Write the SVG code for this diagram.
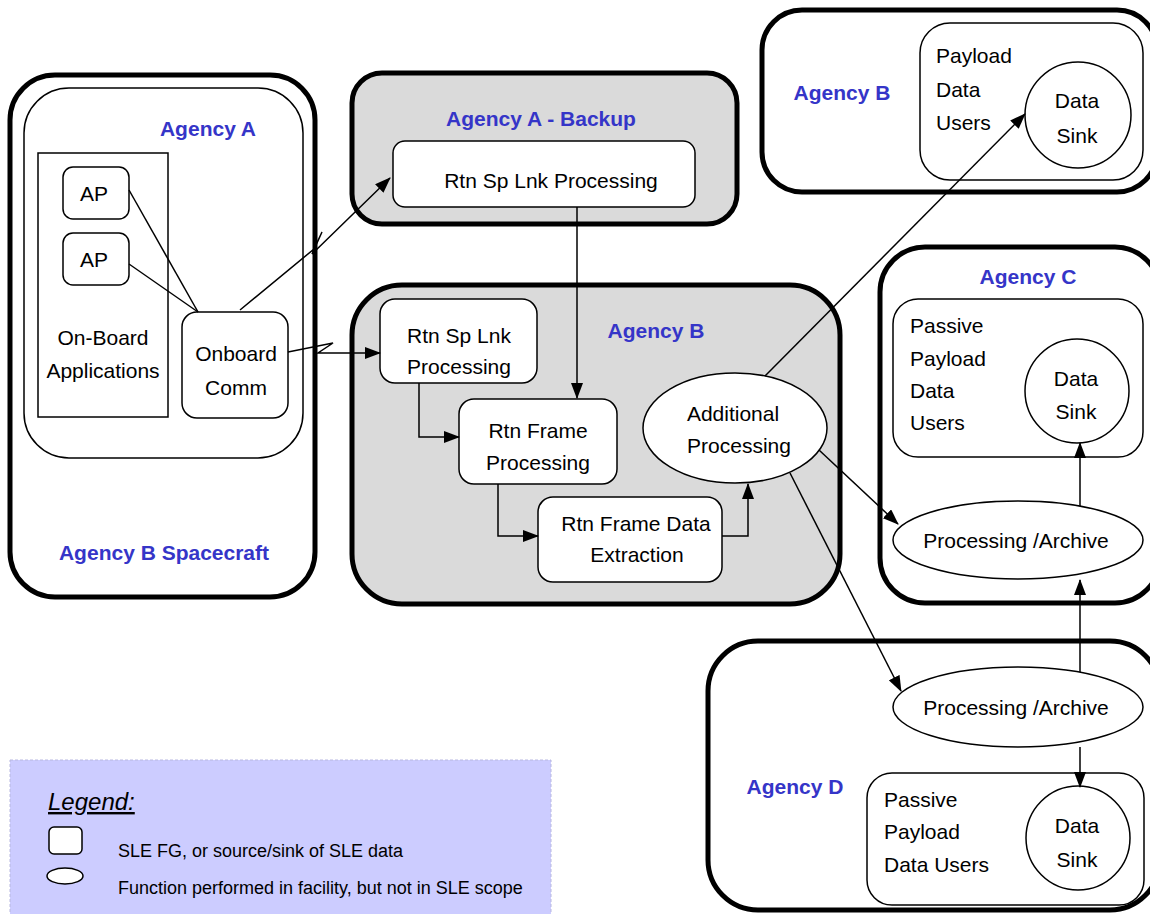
<svg xmlns="http://www.w3.org/2000/svg" width="1150" height="914" viewBox="0 0 1150 914">
<defs>
<marker id="arr" markerWidth="16" markerHeight="12" refX="15" refY="6" orient="auto" markerUnits="userSpaceOnUse" viewBox="0 0 16 12">
<path d="M0,0 L16,6 L0,12 z" fill="#000"/>
</marker>
<style>
.big{fill:#fff;stroke:#000;stroke-width:5}
.grey{fill:#dadada;stroke:#000;stroke-width:5}
.box{fill:#fff;stroke:#000;stroke-width:1.5}
.t{font-family:"Liberation Sans",Arial,sans-serif;font-size:21px;fill:#000}
.c{text-anchor:middle}
.ag{font-family:"Liberation Sans",Arial,sans-serif;font-size:21px;font-weight:bold;fill:#3535c8;text-anchor:middle}
.lg{font-family:"Liberation Sans",Arial,sans-serif;font-size:18px;fill:#000}
.ln{fill:none;stroke:#000;stroke-width:1.5}
</style>
</defs>
<rect width="1150" height="914" fill="#fff"/>

<g id="spacecraft">
<rect class="big" x="10" y="75" width="305" height="522" rx="45"/>
<text class="ag" x="164" y="560">Agency B Spacecraft</text>
</g>
<g id="agencyA">
<rect class="box" x="24" y="88" width="279" height="370" rx="45"/>
<text class="ag" x="208" y="136">Agency A</text>
</g>
<g id="onboardApps">
<rect class="box" x="38" y="153" width="130" height="264"/>
<text class="t c" x="103" y="345">On-Board</text>
<text class="t c" x="103" y="378">Applications</text>
</g>
<g id="ap1">
<rect class="box" x="63" y="167" width="66" height="52" rx="10"/>
<text class="t c" x="94" y="201">AP</text>
</g>
<g id="ap2">
<rect class="box" x="63" y="233" width="66" height="52" rx="10"/>
<text class="t c" x="94" y="267">AP</text>
</g>
<g id="onboardComm">
<rect class="box" x="182" y="312" width="106" height="106" rx="15"/>
<text class="t c" x="236" y="361">Onboard</text>
<text class="t c" x="236" y="395">Comm</text>
</g>

<g id="agencyABackup">
<rect class="grey" x="352" y="73" width="385" height="151" rx="30"/>
<text class="ag" x="541" y="126">Agency A - Backup</text>
</g>
<g id="rtnSpLnkBackup">
<rect class="box" x="393" y="141" width="302" height="66" rx="12"/>
<text class="t c" x="551" y="188">Rtn Sp Lnk Processing</text>
</g>

<g id="agencyBGround">
<rect class="grey" x="352" y="285" width="488" height="319" rx="50"/>
<text class="ag" x="656" y="338">Agency B</text>
</g>
<g id="rtnSpLnk">
<rect class="box" x="380" y="299" width="157" height="84" rx="15"/>
<text class="t c" x="459" y="343">Rtn Sp Lnk</text>
<text class="t c" x="459" y="374">Processing</text>
</g>
<g id="rtnFrame">
<rect class="box" x="459" y="399" width="158" height="85" rx="15"/>
<text class="t c" x="538" y="438">Rtn Frame</text>
<text class="t c" x="538" y="470">Processing</text>
</g>
<g id="rtnFrameData">
<rect class="box" x="538" y="497" width="184" height="85" rx="15"/>
<text class="t c" x="636" y="531">Rtn Frame Data</text>
<text class="t c" x="637" y="562">Extraction</text>
</g>
<g id="additional">
<ellipse class="box" cx="735" cy="428" rx="92" ry="55"/>
<text class="t c" x="733" y="421">Additional</text>
<text class="t c" x="739" y="453">Processing</text>
</g>

<g id="agencyBUsers">
<rect class="big" x="762" y="10" width="395" height="182" rx="40"/>
<text class="ag" x="842" y="100">Agency B</text>
<rect class="box" x="920" y="23" width="223" height="157" rx="30"/>
<text class="t" x="936" y="63">Payload</text>
<text class="t" x="936" y="97">Data</text>
<text class="t" x="936" y="130">Users</text>
</g>
<g id="sinkB">
<circle class="box" cx="1078" cy="115" r="53"/>
<text class="t c" x="1077" y="108">Data</text>
<text class="t c" x="1077" y="143">Sink</text>
</g>

<g id="agencyC">
<rect class="big" x="880" y="247" width="280" height="356" rx="45"/>
<text class="ag" x="1028" y="284">Agency C</text>
<rect class="box" x="893" y="299" width="250" height="158" rx="25"/>
<text class="t" x="910" y="333">Passive</text>
<text class="t" x="910" y="366">Payload</text>
<text class="t" x="910" y="398">Data</text>
<text class="t" x="910" y="430">Users</text>
</g>
<g id="sinkC">
<circle class="box" cx="1077" cy="391" r="52"/>
<text class="t c" x="1076" y="386">Data</text>
<text class="t c" x="1076" y="419">Sink</text>
</g>
<g id="archiveC">
<ellipse class="box" cx="1018" cy="540" rx="125" ry="39"/>
<text class="t c" x="1016" y="548">Processing /Archive</text>
</g>

<g id="agencyD">
<rect class="big" x="708" y="641" width="452" height="269" rx="50"/>
<text class="ag" x="795" y="794">Agency D</text>
<rect class="box" x="867" y="773" width="277" height="132" rx="25"/>
<text class="t" x="884" y="807">Passive</text>
<text class="t" x="884" y="839">Payload</text>
<text class="t" x="884" y="872">Data Users</text>
</g>
<g id="sinkD">
<circle class="box" cx="1078" cy="838" r="52"/>
<text class="t c" x="1077" y="833">Data</text>
<text class="t c" x="1077" y="867">Sink</text>
</g>
<g id="archiveD">
<ellipse class="box" cx="1018" cy="707" rx="125" ry="40"/>
<text class="t c" x="1016" y="715">Processing /Archive</text>
</g>

<g id="connectors">
<line class="ln" x1="129" y1="190" x2="198" y2="312"/>
<line class="ln" x1="129" y1="264" x2="198" y2="312"/>
<path class="ln" d="M240,310 L314,249 L322,232 L312,254 L390,178" marker-end="url(#arr)"/>
<path class="ln" d="M288,352 L333,343 L318,353 L380,353" marker-end="url(#arr)"/>
<line class="ln" x1="577" y1="207" x2="577" y2="398" marker-end="url(#arr)"/>
<path class="ln" d="M419,383 L419,437 L459,437" marker-end="url(#arr)"/>
<path class="ln" d="M498,484 L498,536 L538,536" marker-end="url(#arr)"/>
<path class="ln" d="M722,536 L748,536 L748,484" marker-end="url(#arr)"/>
<line class="ln" x1="765" y1="376" x2="1025" y2="114" marker-end="url(#arr)"/>
<line class="ln" x1="819" y1="450" x2="898" y2="524" marker-end="url(#arr)"/>
<line class="ln" x1="790" y1="473" x2="901" y2="691" marker-end="url(#arr)"/>
<line class="ln" x1="1080" y1="506" x2="1080" y2="443" marker-end="url(#arr)"/>
<line class="ln" x1="1080" y1="672" x2="1080" y2="580" marker-end="url(#arr)"/>
<line class="ln" x1="1080" y1="747" x2="1080" y2="787" marker-end="url(#arr)"/>
</g>

<g id="legend">
<rect x="10" y="760" width="541" height="160" fill="#ccccff" stroke="#b8b8e0" stroke-width="1" stroke-dasharray="3,2"/>
<text x="48" y="810" font-family="'Liberation Sans',Arial,sans-serif" font-size="24" font-style="italic" text-decoration="underline" fill="#000">Legend:</text>
<rect class="box" x="49" y="827" width="33" height="27" rx="5"/>
<text class="lg" x="118" y="857">SLE FG, or source/sink of SLE data</text>
<ellipse class="box" cx="65" cy="876" rx="18" ry="8"/>
<text class="lg" x="118" y="894">Function performed in facility, but not in SLE scope</text>
</g>
</svg>
